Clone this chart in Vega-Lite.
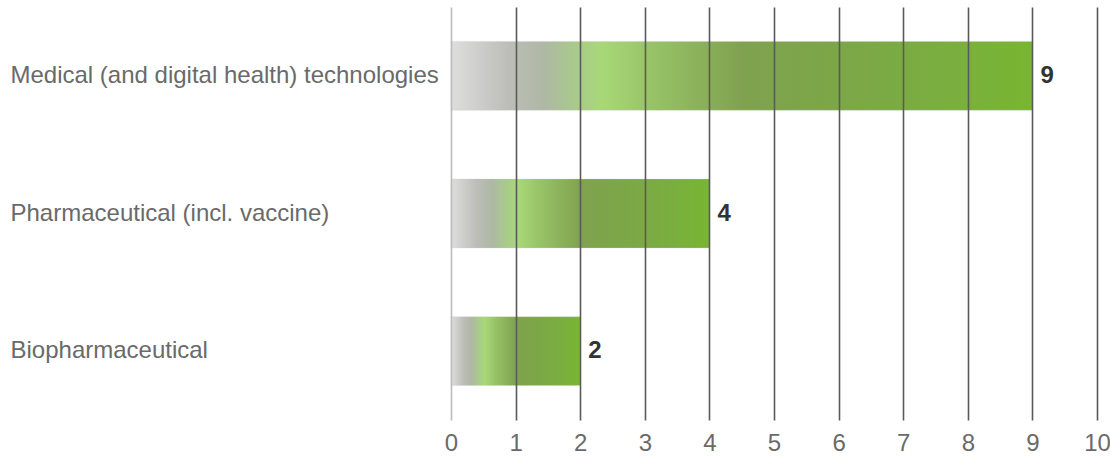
{
  "$schema": "https://vega.github.io/schema/vega-lite/v6.json",
  "width": 646,
  "height": 413,
  "autosize": {"type": "none"},
  "padding": {"left": 451, "top": 7, "right": 13, "bottom": 36},
  "background": "white",
  "config": {"view": {"stroke": null}, "font": "Liberation Sans"},
  "data": {"values": [
    {"category": "Medical (and digital health) technologies", "value": 9},
    {"category": "Pharmaceutical (incl. vaccine)", "value": 4},
    {"category": "Biopharmaceutical", "value": 2}
  ]},
  "encoding": {
    "y": {"field": "category", "type": "nominal", "sort": null,
      "scale": {"paddingInner": 0.5, "paddingOuter": 0.25},
      "axis": {"title": null, "domain": false, "ticks": false, "labelAlign": "left", "labelPadding": 441,
        "labelFontSize": 24, "labelColor": "#6a6a6a", "labelLimit": 600, "labelFont": "Liberation Sans"}},
    "x": {"field": "value", "type": "quantitative", "scale": {"domain": [0, 10], "nice": false},
      "axis": {"title": null, "domain": false, "ticks": false, "values": [0,1,2,3,4,5,6,7,8,9,10],
        "labelOverlap": false, "labelFlush": false,
        "labelPadding": 11, "labelFontSize": 24, "labelColor": "#6a6a6a", "labelFont": "Liberation Sans",
        "grid": true, "gridWidth": 1.6,
        "gridColor": {"condition": {"test": "datum.value === 0", "value": "#bbbbbb"}, "value": "#5a5a5a"},
        "zindex": 1}}
  },
  "layer": [
    {"mark": {"type": "bar", "stroke": "#cccccc", "strokeWidth": 0.5, "strokeOpacity": 0.6,
      "color": {"gradient": "linear", "x1": 0, "y1": 0, "x2": 1, "y2": 0,
        "stops": [
          {"offset": 0, "color": "#dedede"},
          {"offset": 0.1, "color": "#bcbdb8"},
          {"offset": 0.16, "color": "#aeb8a4"},
          {"offset": 0.22, "color": "#a8cc88"},
          {"offset": 0.26, "color": "#a9d878"},
          {"offset": 0.34, "color": "#98c468"},
          {"offset": 0.5, "color": "#80a250"},
          {"offset": 0.65, "color": "#7ca648"},
          {"offset": 0.85, "color": "#7aae40"},
          {"offset": 1, "color": "#78b630"}
        ]}}},
    {"mark": {"type": "text", "align": "left", "baseline": "middle", "dx": 8, "fontSize": 24, "fontWeight": "bold", "color": "#333333", "font": "Liberation Sans"},
      "encoding": {"text": {"field": "value", "type": "quantitative"}}}
  ]
}
